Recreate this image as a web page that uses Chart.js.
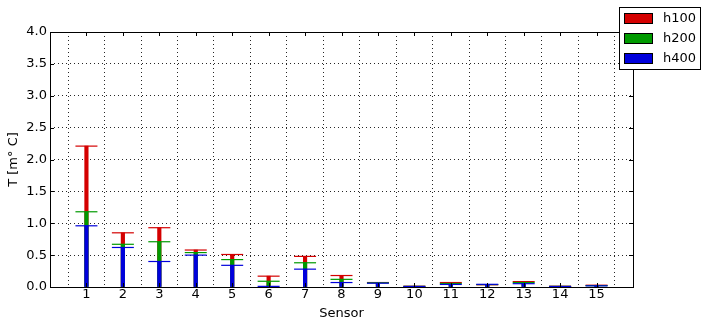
<!DOCTYPE html>
<html>
<head>
<meta charset="utf-8">
<script src="https://cdn.jsdelivr.net/npm/chart.js@4"></script>
<style>
  html, body { margin: 0; padding: 0; background: #fff; }
  #wrap { width: 702px; height: 321px; position: relative; }
</style>
</head>
<body>
<div id="wrap"><canvas id="tempChart" width="702" height="321"></canvas></div>
<script>
// sensor numbers and temperature per height level
const sensors = [1, 2, 3, 4, 5, 6, 7, 8, 9, 10, 11, 12, 13, 14, 15];
const h100 = [2.21, 0.85, 0.93, 0.58, 0.51, 0.17, 0.48, 0.18, 0.07, 0.012, 0.07, 0.035, 0.085, 0.012, 0.028];
const h200 = [1.18, 0.67, 0.71, 0.54, 0.43, 0.09, 0.38, 0.12, 0.065, 0.010, 0.055, 0.038, 0.07, 0.010, 0.022];
const h400 = [0.96, 0.62, 0.40, 0.50, 0.34, 0.01, 0.28, 0.07, 0.06, 0.008, 0.04, 0.042, 0.052, 0.008, 0.018];
const yTicks = [0, 0.5, 1, 1.5, 2, 2.5, 3, 3.5, 4];

const seriesNames = ["h100", "h200", "h400"];
const seriesColors = ["#d40000", "#009a00", "#0000dc"];
const seriesValues = [h100, h200, h400];

function points(vals) {
    return sensors.map((s, i) => ({ x: s, y: vals[i] }));
}

let datasets = [];
seriesValues.forEach((vals, k) => {
    // thin bar
    datasets.push({
        type: "bar",
        label: seriesNames[k],
        data: points(vals),
        backgroundColor: seriesColors[k],
        borderWidth: 0,
        barThickness: 3.5,
        grouped: false,
        order: 6 - k * 2
    });
    // cap on top of the bar
    datasets.push({
        type: "line",
        label: seriesNames[k] + " cap",
        data: points(vals),
        showLine: false,
        pointStyle: "line",
        pointRadius: 11,
        pointBorderWidth: 1.2,
        pointBorderColor: seriesColors[k],
        borderColor: seriesColors[k],
        order: 5 - k * 2
    });
});

// frame, inner tick marks and legend box
const framePlugin = {
    id: "frame",
    afterDatasetsDraw(chart) {
        let ctx = chart.ctx;
        let a = chart.chartArea;
        let xs = chart.scales.x, ys = chart.scales.y;
        ctx.save();
        ctx.strokeStyle = "#000";
        ctx.lineWidth = 1;
        ctx.beginPath();
        sensors.forEach(s => {
            let px = Math.round(xs.getPixelForValue(s)) + 0.5;
            ctx.moveTo(px, a.bottom); ctx.lineTo(px, a.bottom - 4);
            ctx.moveTo(px, a.top); ctx.lineTo(px, a.top + 4);
        });
        yTicks.forEach(v => {
            let py = Math.round(ys.getPixelForValue(v)) + 0.5;
            ctx.moveTo(a.left, py); ctx.lineTo(a.left + 4, py);
            ctx.moveTo(a.right, py); ctx.lineTo(a.right - 4, py);
        });
        ctx.stroke();
        ctx.strokeRect(Math.round(a.left) + 0.5, Math.round(a.top) + 0.5,
            Math.round(a.right - a.left), Math.round(a.bottom - a.top));
        ctx.restore();
    },
    afterDraw(chart) {
        let ctx = chart.ctx;
        ctx.save();
        ctx.fillStyle = "#fff";
        ctx.fillRect(619.5, 7.5, 81, 62);
        ctx.strokeStyle = "#000";
        ctx.lineWidth = 1;
        ctx.strokeRect(619.5, 7.5, 81, 62);
        ctx.font = "13px 'DejaVu Sans'";
        ctx.textBaseline = "middle";
        seriesNames.forEach((name, k) => {
            let y = 13.5 + k * 20;
            ctx.fillStyle = seriesColors[k];
            ctx.fillRect(624.5, y, 28, 10);
            ctx.strokeRect(624.5, y, 28, 10);
            ctx.fillStyle = "#000";
            ctx.fillText(name, 663, y + 5.5);
        });
        ctx.restore();
    }
};

new Chart(document.getElementById("tempChart").getContext("2d"), {
    type: "bar",
    data: { datasets: datasets },
    options: {
        responsive: false,
        animation: false,
        layout: { padding: { top: 32, right: 69, left: 0, bottom: 0 } },
        plugins: {
            legend: { display: false },
            tooltip: { enabled: false }
        },
        scales: {
            x: {
                type: "linear",
                min: 0,
                max: 16,
                offset: false,
                afterBuildTicks(scale) {
                    scale.ticks = sensors.map(s => ({ value: s }));
                },
                afterFit(scale) { scale.height = 34; },
                ticks: {
                    color: "#000",
                    font: { family: "DejaVu Sans", size: 13 },
                    padding: 0,
                    maxRotation: 0,
                    autoSkip: false
                },
                grid: {
                    color: "rgba(0,0,0,0.85)",
                    lineWidth: 1,
                    drawTicks: false,
                    tickLength: 3
                },
                border: { display: false, dash: [1, 3] },
                title: {
                    display: true,
                    text: "Sensor",
                    color: "#000",
                    font: { family: "DejaVu Sans", size: 13 },
                    padding: { top: 0, bottom: 0 }
                }
            },
            y: {
                min: 0,
                max: 4,
                afterBuildTicks(scale) {
                    scale.ticks = yTicks.map(v => ({ value: v }));
                },
                afterFit(scale) { scale.width = 50; },
                ticks: {
                    color: "#000",
                    font: { family: "DejaVu Sans", size: 13 },
                    padding: 3,
                    callback: v => v.toFixed(1)
                },
                grid: {
                    color: "rgba(0,0,0,0.85)",
                    lineWidth: 1,
                    drawTicks: false
                },
                border: { display: false, dash: [1, 3] },
                title: {
                    display: true,
                    text: "T [m° C]",
                    color: "#000",
                    font: { family: "DejaVu Sans", size: 13 },
                    padding: { top: 6, bottom: 0 }
                }
            }
        }
    },
    plugins: [framePlugin]
});
</script>
</body>
</html>
